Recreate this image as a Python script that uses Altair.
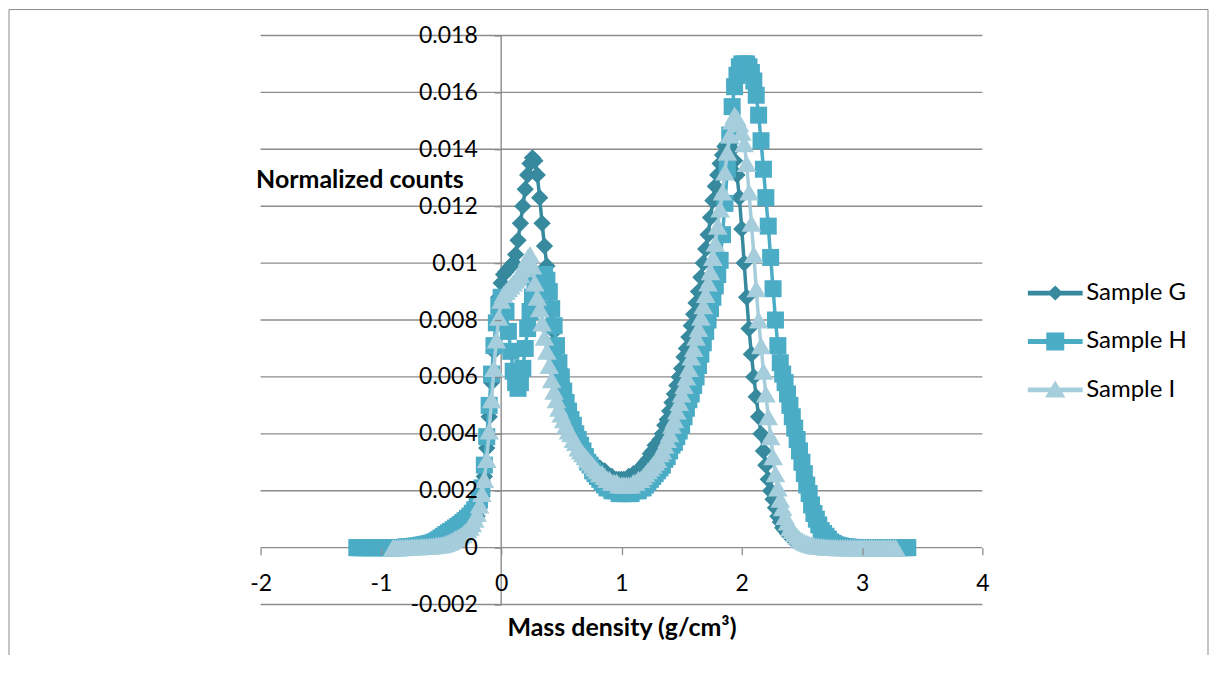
import altair as alt
import pandas as pd

# ---------------- data ----------------
x_step = 0.02
x_start_H = -1.20
x_start_GI = -0.90

sample_G = [
    0, 0, 0, 0.00001, 0.00001, 0.00001, 0.00002, 0.00002, 0.00002, 0.00003,
    0.00003, 0.00004, 0.00004, 0.00005, 0.00005, 0.00006, 0.00007, 0.00008, 0.00009, 0.00010,
    0.00011, 0.00013, 0.00015, 0.00018, 0.00021, 0.00025, 0.00029, 0.00034, 0.00039, 0.00045,
    0.00052, 0.00060, 0.00069, 0.00080, 0.00094, 0.0011, 0.0014, 0.0018, 0.0025, 0.0035,
    0.0046, 0.0058, 0.0069, 0.0080, 0.0088, 0.0093, 0.0096, 0.0097, 0.0098, 0.0099,
    0.0100, 0.0103, 0.0108, 0.0114, 0.0120, 0.0126, 0.0131, 0.0135, 0.0137, 0.0136,
    0.0131, 0.0123, 0.0114, 0.0106, 0.0099, 0.0091, 0.0083, 0.0076, 0.0069, 0.0063,
    0.0058, 0.0053, 0.0049, 0.0046, 0.0043, 0.0041, 0.0039, 0.0037, 0.0036, 0.0034,
    0.0033, 0.0032, 0.0031, 0.0030, 0.0029, 0.0028, 0.0028, 0.0027, 0.0027, 0.0026,
    0.0025, 0.0025, 0.0024, 0.0024, 0.0024, 0.0024, 0.0024, 0.0024, 0.0025, 0.0025,
    0.0026, 0.0026, 0.0027, 0.0028, 0.0029, 0.0030, 0.0031, 0.0033, 0.0034, 0.0036,
    0.0036, 0.0038, 0.0040, 0.0043, 0.0045, 0.0048, 0.0051, 0.0054, 0.0057, 0.0060,
    0.0063, 0.0067, 0.0070, 0.0074, 0.0078, 0.0082, 0.0086, 0.0090, 0.0095, 0.0100,
    0.0105, 0.0110, 0.0116, 0.0122, 0.0127, 0.0131, 0.0135, 0.0138, 0.0141, 0.0142,
    0.0142, 0.0140, 0.0136, 0.0131, 0.0123, 0.0112, 0.0100, 0.0088, 0.0077, 0.0068,
    0.0060, 0.0053, 0.0046, 0.0040, 0.0034, 0.0029, 0.0024, 0.0020, 0.0017, 0.0014,
    0.0011, 0.0009, 0.0007, 0.0006, 0.0005, 0.0004, 0.0003, 0.00025, 0.0002, 0.00017,
    0.00014, 0.00012, 0.0001, 0.00008, 0.00006, 0.00005, 0.00004, 0.00003, 0.00002, 0.00002,
    0.00001, 0.00001, 0, 0, 0, 0, 0, 0, 0, 0,
    0, 0, 0, 0, 0, 0, 0, 0, 0, 0,
    0, 0, 0, 0, 0, 0, 0, 0, 0, 0,
]

sample_H = [
    0, 0, 0, 0, 0, 0, 0, 0, 0, 0,
    0, 0, 0, 0, 0, 0, 0, 0, 0, 0,
    0.00002, 0.00003, 0.00003, 0.00004, 0.00005, 0.00006, 0.00007, 0.00009, 0.00010, 0.00012,
    0.00014, 0.00016, 0.00019, 0.00023, 0.00028, 0.00034, 0.00040, 0.00046, 0.00052, 0.00057,
    0.00063, 0.00069, 0.00075, 0.00081, 0.00088, 0.00095, 0.00103, 0.00111, 0.00121, 0.00133,
    0.0015, 0.0017, 0.0021, 0.0029, 0.0039, 0.0050, 0.0061, 0.0071, 0.0079, 0.0085,
    0.0088, 0.0087, 0.0083, 0.0076, 0.0069, 0.0062, 0.0058, 0.0056, 0.0058, 0.0063,
    0.0070, 0.0077, 0.0083, 0.0088, 0.0092, 0.0094, 0.0095, 0.0096, 0.0096, 0.0094,
    0.0090, 0.0084, 0.0078, 0.0071, 0.0065, 0.0060, 0.0055, 0.0051, 0.0048, 0.0045,
    0.0043, 0.0040, 0.0038, 0.0036, 0.0034, 0.0032, 0.0030, 0.0029, 0.0027, 0.0026,
    0.0025, 0.0024, 0.0023, 0.0022, 0.0021, 0.0021, 0.0020, 0.0020, 0.0020, 0.0019,
    0.0019, 0.0019, 0.0019, 0.0019, 0.0019, 0.0020, 0.0020, 0.0020, 0.0021, 0.0021,
    0.0022, 0.0023, 0.0024, 0.0025, 0.0026, 0.0027, 0.0028, 0.0029, 0.0031, 0.0032,
    0.0034, 0.0036, 0.0037, 0.0039, 0.0041, 0.0043, 0.0046, 0.0049, 0.0052, 0.0054,
    0.0057, 0.0060, 0.0064, 0.0068, 0.0072, 0.0076, 0.0080, 0.0084, 0.0088, 0.0092,
    0.0096, 0.0101, 0.0110, 0.0121, 0.0133, 0.0145, 0.0155, 0.0162, 0.0166, 0.0169,
    0.0170, 0.0170, 0.0170, 0.0169, 0.0167, 0.0164, 0.0159, 0.0152, 0.0143, 0.0133,
    0.0123, 0.0113, 0.0102, 0.0091, 0.0080, 0.0071, 0.0065, 0.0061, 0.0058, 0.0054,
    0.0050, 0.0046, 0.0042, 0.0038, 0.0034, 0.0030, 0.0026, 0.0022, 0.0019, 0.0015,
    0.0012, 0.0010, 0.0008, 0.0006, 0.0005, 0.0004, 0.0003, 0.0002, 0.00015, 0.0001,
    0.00008, 0.00006, 0.00004, 0.00003, 0.00002, 0.00001, 0.00001, 0, 0, 0,
    0, 0, 0, 0, 0, 0, 0, 0, 0, 0,
    0, 0, 0, 0, 0, 0, 0, 0, 0, 0,
]

sample_I = [
    0, 0, 0, 0.00001, 0.00001, 0.00001, 0.00002, 0.00002, 0.00002, 0.00003,
    0.00003, 0.00003, 0.00004, 0.00004, 0.00005, 0.00005, 0.00006, 0.00007, 0.00008, 0.00009,
    0.00010, 0.00012, 0.00015, 0.00018, 0.00022, 0.00027, 0.00031, 0.00036, 0.00041, 0.00047,
    0.00055, 0.00063, 0.00072, 0.00084, 0.00100, 0.0012, 0.0015, 0.0019, 0.0024, 0.0031,
    0.0041, 0.0052, 0.0063, 0.0073, 0.0081, 0.0087, 0.0089, 0.0090, 0.0091, 0.0092,
    0.0093, 0.0094, 0.0095, 0.0096, 0.0098, 0.0100, 0.0102, 0.0103, 0.0099, 0.0093,
    0.0088, 0.0084, 0.0079, 0.0074, 0.0069, 0.0064, 0.0059, 0.0055, 0.0052, 0.0049,
    0.0047, 0.0045, 0.0043, 0.0041, 0.0040, 0.0038, 0.0037, 0.0035, 0.0034, 0.0033,
    0.0032, 0.0031, 0.0030, 0.0029, 0.0028, 0.0027, 0.0026, 0.0026, 0.0025, 0.0024,
    0.0024, 0.0023, 0.0023, 0.0023, 0.0022, 0.0022, 0.0022, 0.0022, 0.0022, 0.0022,
    0.0023, 0.0023, 0.0024, 0.0024, 0.0025, 0.0026, 0.0027, 0.0028, 0.0029, 0.0030,
    0.0031, 0.0033, 0.0034, 0.0036, 0.0038, 0.0040, 0.0043, 0.0045, 0.0048, 0.0051,
    0.0054, 0.0057, 0.0060, 0.0063, 0.0067, 0.0070, 0.0074, 0.0077, 0.0081, 0.0085,
    0.0089, 0.0093, 0.0097, 0.0102, 0.0107, 0.0113, 0.0119, 0.0125, 0.0132, 0.0139,
    0.0145, 0.0150, 0.0152, 0.0151, 0.0149, 0.0146, 0.0142, 0.0135, 0.0125, 0.0114,
    0.0103, 0.0091, 0.0080, 0.0071, 0.0062, 0.0054, 0.0046, 0.0039, 0.0032, 0.0026,
    0.0021, 0.0017, 0.0014, 0.0011, 0.0009, 0.0007, 0.0006, 0.0005, 0.0004, 0.0003,
    0.00025, 0.0002, 0.00016, 0.00013, 0.0001, 0.00008, 0.00006, 0.00005, 0.00004, 0.00003,
    0.00002, 0.00002, 0.00001, 0.00001, 0.00001, 0, 0, 0, 0, 0,
    0, 0, 0, 0, 0, 0, 0, 0, 0, 0,
    0, 0, 0, 0, 0, 0, 0, 0, 0, 0,
]

series_names = ["Sample G", "Sample H", "Sample I"]
series_values = [sample_G, sample_H, sample_I]
series_starts = [x_start_GI, x_start_H, x_start_GI]

x_ticks = [-2, -1, 0, 1, 2, 3, 4]
y_ticks = [-0.002, 0, 0.002, 0.004, 0.006, 0.008, 0.01, 0.012, 0.014, 0.016, 0.018]

# ---------------- styles ----------------
series_colors = ["#37899E", "#4BACC6", "#A5CDDB"]
series_shapes = ["diamond", "square", "triangle-up"]
series_sizes = [300, 290, 390]
legend_paths = [
    "M-1.83,-0.16H1.83V0.16H-1.83Z M0,-0.5L0.52,0L0,0.5L-0.52,0Z",
    "M-1.83,-0.16H1.83V0.16H-1.83Z M-0.6,-0.6H0.6V0.6H-0.6Z",
    "M-1.83,-0.16H1.83V0.16H-1.83Z M0,-0.62L0.68,0.5L-0.68,0.5Z",
]
GRID = "#8c8c8c"
FONT = "Lato"

W, H = 723, 570
xs = alt.Scale(domain=[-2, 4], nice=False, zero=False)
ys = alt.Scale(domain=[-0.002, 0.018], nice=False, zero=False)

x_axis = alt.Axis(
    values=x_ticks, labelExpr="'' + datum.value", domain=False, grid=False,
    ticks=True, tickSize=7, tickColor=GRID, tickWidth=1.3,
    offset=-57, labelFontSize=23, labelFont=FONT, labelColor="black",
    labelPadding=29, labelBaseline="middle", labelFlush=False,
    title="Mass density (g/cm³)", titleFontSize=25, titleFont=FONT,
    titleFontWeight="bold", titleColor="black", titleX=361.5, titleY=80,
    titleBaseline="middle", zindex=1,
)
y_axis = alt.Axis(
    values=y_ticks, labelExpr="'' + datum.value", domain=False, grid=False,
    ticks=True, tickSize=7, tickColor=GRID, tickWidth=1.3,
    offset=-241, labelFontSize=23, labelFont=FONT, labelColor="black",
    labelPadding=17, labelFlush=False,
    title="Normalized counts", titleFontSize=25, titleFont=FONT,
    titleFontWeight="bold", titleColor="black", titleAngle=0,
    titleAlign="left", titleBaseline="middle", titleX=-246, titleY=144,
    zindex=1,
)

frame = alt.Chart(pd.DataFrame({"a": [0]})).mark_rect(
    fill="transparent", stroke="#8c8c8c", strokeWidth=1
).encode(x=alt.value(-252), x2=alt.value(949), y=alt.value(-26), y2=alt.value(720))

# gridlines and the vertical axis line, drawn behind the data
grid = alt.Chart(pd.DataFrame({"v": y_ticks})).mark_rule(
    color=GRID, strokeWidth=1.4
).encode(y=alt.Y("v:Q", scale=ys, axis=y_axis))

vline = alt.Chart(pd.DataFrame({"v": [0]})).mark_rule(
    color=GRID, strokeWidth=1.4
).encode(x=alt.X("v:Q", scale=xs, axis=x_axis))

layers = [frame, grid, vline]
for name, vals, start, col, shp, sz in zip(series_names, series_values, series_starts,
                                          series_colors, series_shapes, series_sizes):
    df = pd.DataFrame({
        "x": [round(start + i * x_step, 2) for i in range(len(vals))],
        "y": vals,
        "series": name,
    })
    base = alt.Chart(df).encode(
        x=alt.X("x:Q", scale=xs, axis=x_axis),
        y=alt.Y("y:Q", scale=ys, axis=y_axis),
    )
    layers.append(base.mark_line(color=col, strokeWidth=3.5))
    layers.append(base.mark_point(shape=shp, filled=True, size=sz, color=col, opacity=1, strokeWidth=0))

leg = alt.Legend(
    title=None, orient="none", legendX=781, legendY=243, symbolSize=900,
    symbolOpacity=1, symbolStrokeWidth=0, labelFontSize=24, labelFont=FONT,
    labelColor="black", labelOffset=16, rowPadding=21.5, padding=0, labelLimit=400,
)
legend_layer = alt.Chart(pd.DataFrame({"series": series_names})).mark_point(
    filled=True, opacity=0
).encode(
    color=alt.Color("series:N", scale=alt.Scale(domain=series_names, range=series_colors), legend=leg),
    shape=alt.Shape("series:N", scale=alt.Scale(domain=series_names, range=legend_paths), legend=leg),
)
layers.append(legend_layer)

chart = alt.layer(*layers).properties(
    width=W, height=H,
    padding={"left": 253, "top": 27, "right": 228, "bottom": 50},
    autosize=alt.AutoSizeParams(type="none"),
).configure(font=FONT).configure_view(strokeWidth=0)

chart.save("out.html", embed_options={"renderer": "svg", "actions": False})
